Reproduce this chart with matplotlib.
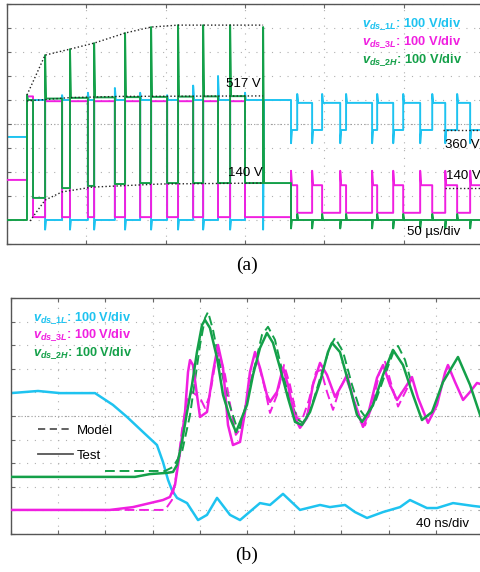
import matplotlib
matplotlib.use('Agg')
import matplotlib.pyplot as plt
from matplotlib.lines import Line2D

plt.rcParams['font.family'] = ['Liberation Sans', 'DejaVu Sans']
plt.rcParams['mathtext.fontset'] = 'custom'
plt.rcParams['mathtext.it'] = 'Liberation Sans:italic:bold'
plt.rcParams['mathtext.rm'] = 'Liberation Sans:bold'
plt.rcParams['mathtext.bf'] = 'Liberation Sans:bold'

CYAN = '#1ec3f0'
MAGENTA = '#f01fe0'
GREEN = '#14a049'

# ---- (a) start-up, 50 us/div, 100 V/div (time in us, voltage in V) ----
# switching instants, one level per interval
a_edges = [0, 12.6, 16.4, 24.0, 34.7, 39.7, 51.0, 54.9, 68.0, 74.4, 83.9, 90.8,
           100.9, 107.8, 117.3, 123.6, 133.0, 140.6, 150.0, 161.4, 179.0,
           182.9, 192.3, 198.6, 210.0, 213.7, 230.1, 233.3, 243.4, 249.7,
           260.4, 268.0, 276.2, 283.7, 291.9, 300.0]

a_green_lv = [0, 500, 92, 506, 133, 509, 142, 511, 150, 512, 154, 513, 154, 514,
              154, 515, 154, 516, 154, 154] + [0] * 15
a_green_sp = [None, 521, None, 687, None, 712, None, 737, None, 779, None, 804,
              None, 812, None, 812, None, 812, None, 804] + [-35, 25] * 7 + [-35]

a_cyan_lv = [346, 500, 500, 0, 500, 0, 500, 0, 500, 0, 500, 0, 500, 0, 500, 0,
             500, 0, 500, 500] + [375, 488] * 7 + [375]
a_cyan_sp = [None, None, None, -40, 520, -40, 530, -40, 550, -40, 530, -40, 520,
             -40, 560, -40, 600, -40, 530, -40] + [320, 525] * 7 + [320]

a_mag_lv = [167, 515, 12, 495, 12, 495, 12, 495, 12, 495, 12, 495, 12, 495, 12,
            495, 12, 495, 12, 12] + [145, 30] * 7 + [145]
a_mag_sp = [None] * 20 + [205, None] * 7 + [205]

# dotted envelopes
a_env_top_t = [12.6, 24.0, 39.7, 54.9, 74.4, 90.8, 107.8, 161.4]
a_env_top_v = [521, 687, 712, 737, 779, 804, 812, 812]
a_env_mid_t = [12.6, 39.7, 71.2, 161.4]
a_env_mid_v = [496, 510, 515, 517]
a_env_low_t = [14.5, 24.0, 34.7, 53.6, 96.5, 160.8]
a_env_low_v = [-4, 83, 117, 137, 150, 154]

# ---- (b) turn-on transient, 40 ns/div, 100 V/div (time in ns, voltage in V) ----
b_cyan_t = [0, 22.9, 41.5, 71.2, 86.4, 98.3, 111.9, 123.7, 128.8, 133.1, 136.4,
            140.7, 149.2, 158.5, 166.1, 174.6, 185.6, 194.1, 211.0, 219.5, 230.5,
            244.9, 261.9, 270.3, 283.1, 291.5, 301.7, 315.3, 329.7, 338.1, 352.5,
            361.0, 374.6, 391.5, 400]
b_cyan_v = [497, 506, 497, 497, 447, 396, 332, 277, 205, 129, 86, 53, 31, -41,
            -19, 53, -19, -41, 31, 23, 70, 2, 23, 14, 23, -7, -32, -7, 14, 44, 10,
            10, 31, 19, 14]

b_green_t = [0, 50.0, 105.1, 117.8, 132.2, 137.3, 140.7, 144.9, 149.2, 153.4,
             157.6, 161.9, 164.4, 168.6, 174.6, 179.7, 185.6, 190.7, 200.0, 205.1,
             211.0, 216.9, 222.0, 228.0, 234.7, 240.7, 246.6, 253.4, 261.9, 268.6,
             272.0, 278.8, 287.3, 293.2, 297.5, 306.8, 315.3, 323.7, 332.2, 340.7,
             348.3, 356.8, 366.1, 378.8, 389.0, 397.5, 400]
b_green_v = [142, 142, 142, 154, 159, 163, 193, 290, 417, 532, 671, 786, 807, 773,
             646, 489, 392, 332, 447, 574, 688, 752, 710, 604, 477, 375, 362, 417,
             544, 671, 710, 671, 519, 405, 375, 447, 574, 680, 616, 489, 383, 417,
             544, 650, 532, 405, 375]

b_green_m_t = [79.7, 130.5, 137.3, 144.9, 151.7, 156.0, 160.2, 164.4, 167.0,
               171.2, 177.1, 183.9, 190.7, 194.1, 200.0, 206.8, 212.7, 217.8,
               223.7, 229.6, 236.4, 243.2, 247.5, 255.1, 263.6, 270.3, 274.6,
               281.4, 289.0, 295.8, 300.8, 309.3, 317.8, 325.4, 328.0, 333.9, 339.8]
b_green_m_v = [167, 167, 184, 247, 404, 553, 701, 815, 841, 765, 617, 468, 362,
               349, 468, 617, 744, 778, 723, 596, 468, 384, 371, 447, 587, 693,
               731, 672, 532, 426, 392, 468, 587, 688, 697, 638, 532]

b_mag_t = [0, 41.5, 83.9, 103.4, 117.8, 128.8, 134.7, 139.0, 143.2, 147.5, 150.0,
           151.7, 154.2, 157.6, 160.2, 166.1, 171.2, 175.4, 179.7, 183.9, 188.1,
           194.1, 198.3, 202.5, 206.8, 211.0, 216.9, 219.5, 225.4, 230.5, 234.7,
           240.7, 244.9, 250.8, 255.9, 261.9, 267.8, 274.6, 280.5, 284.7, 289.8,
           298.3, 302.5, 310.2, 315.3, 321.2, 327.1, 333.9, 339.8, 344.9, 353.4,
           361.0, 367.8, 370.3, 376.3, 383.1, 389.0, 394.9, 400]
b_mag_v = [2, 2, 2, 14, 31, 44, 57, 108, 247, 417, 586, 637, 616, 489, 396, 417,
           586, 701, 604, 362, 277, 290, 417, 586, 671, 604, 489, 460, 502, 604,
           532, 392, 350, 392, 532, 625, 574, 481, 532, 574, 477, 354, 405, 562,
           616, 532, 468, 519, 565, 477, 371, 447, 583, 616, 544, 468, 502, 540, 532]

b_mag_m_t = [83.9, 130.5, 136.4, 140.7, 144.9, 149.2, 153.4, 160.2, 164.4, 168.6,
             172.9, 176.3, 181.4, 186.0, 190.5, 195.0, 200.0, 205.1, 209.3, 214.4,
             219.5, 225.4, 231.4, 236.4, 242.4, 246.6, 252.5, 258.5, 262.7, 267.8,
             272.9, 278.8, 283.9, 289.0, 295.0, 300.0, 306.0, 312.0, 317.0, 322.0,
             328.0, 334.0, 340.0]
b_mag_m_v = [2, 2, 44, 171, 340, 468, 502, 477, 434, 489, 617, 668, 574, 440,
             320, 350, 468, 595, 629, 532, 413, 489, 617, 532, 392, 383, 468, 587,
             595, 502, 426, 519, 562, 489, 380, 360, 440, 580, 630, 540, 440, 500, 560]

ch_names = [r'$v_{ds\_1L}$', r'$v_{ds\_3L}$', r'$v_{ds\_2H}$']
ch_colors = [CYAN, MAGENTA, GREEN]


def step_trace(edges, levels, spikes, dt):
    xs, ys = [edges[0]], [levels[0]]
    for i in range(len(levels)):
        if i > 0:
            xs.append(edges[i])
            ys.append(levels[i - 1])
        if spikes[i] is not None:
            xs += [edges[i], edges[i] + dt]
            ys += [spikes[i], levels[i]]
        else:
            xs.append(edges[i])
            ys.append(levels[i])
        xs.append(edges[i + 1])
        ys.append(levels[i])
    return xs, ys


def scope_grid(ax, nx, xdiv):
    ax.set_xlim(0, nx * xdiv)
    ax.set_ylim(-100, 900)
    ax.set_xticks([i * xdiv for i in range(nx + 1)])
    ax.set_yticks(range(-100, 901, 100))
    ax.tick_params(direction='in', length=3, width=0.8, color='#666',
                   top=True, right=True, labelbottom=False, labelleft=False)
    ax.set_axisbelow(True)
    ax.grid(True, color='#b0b0b0', lw=0.8, ls=(0, (1, 6)))
    ax.axhline(400, color='#999999', lw=0.8, ls=(0, (1, 2)), zorder=0.5)
    for s in ax.spines.values():
        s.set_color('#555555')
        s.set_linewidth(1.0)


fig = plt.figure(figsize=(4.81, 5.72), dpi=100)

# ---------------- (a) ----------------
ax = fig.add_axes([7 / 481, 1 - 244 / 572, 476 / 481, 240 / 572])
scope_grid(ax, 6, 50)

x, y = step_trace(a_edges, a_cyan_lv, a_cyan_sp, 0.6)
ax.plot(x, y, color=CYAN, lw=1.4, zorder=2)
x, y = step_trace(a_edges, a_mag_lv, a_mag_sp, 0.6)
ax.plot(x, y, color=MAGENTA, lw=1.4, zorder=3)
x, y = step_trace(a_edges, a_green_lv, a_green_sp, 0.6)
ax.plot(x, y, color=GREEN, lw=1.4, zorder=4)

ax.plot(a_env_top_t, a_env_top_v, color='#222222', lw=1.0, ls=':', zorder=5)
ax.plot(a_env_mid_t, a_env_mid_v, color='#222222', lw=1.0, ls=':', zorder=5)
ax.plot(a_env_low_t, a_env_low_v, color='#222222', lw=1.0, ls=':', zorder=5)
ax.plot([275, 300], [375, 375], color='#222222', lw=1.0, ls=':', zorder=5)
ax.plot([276, 300], [133, 133], color='#222222', lw=1.0, ls=':', zorder=5)

ax.text(138, 567, '517 V', fontsize=9.5, va='center', zorder=6)
ax.text(139, 196, '140 V', fontsize=9.5, va='center', zorder=6)
ax.text(276, 312, '360 V', fontsize=9.5, va='center', zorder=6, clip_on=False)
ax.text(276.7, 185, '140 V', fontsize=9.5, va='center', zorder=6, clip_on=False)
ax.text(252, -50, '50 µs/div', fontsize=9.5, va='center', zorder=6)
for k in range(3):
    ax.text(223.8, 817 - 75 * k, ch_names[k] + ': 100 V/div', color=ch_colors[k],
            fontsize=9.3, fontweight='bold', va='center', zorder=6)

# ---------------- (b) ----------------
ax = fig.add_axes([11 / 481, 1 - 534 / 572, 472 / 481, 236 / 572])
scope_grid(ax, 10, 40)

ax.plot(b_cyan_t, b_cyan_v, color=CYAN, lw=1.8, zorder=2)
ax.plot(b_mag_m_t, b_mag_m_v, color=MAGENTA, lw=1.4, ls=(0, (5, 2.5)), zorder=3)
ax.plot(b_green_m_t, b_green_m_v, color=GREEN, lw=1.4, ls=(0, (5, 2.5)), zorder=3)
ax.plot(b_mag_t, b_mag_v, color=MAGENTA, lw=1.8, zorder=4)
ax.plot(b_green_t, b_green_v, color=GREEN, lw=1.8, zorder=5)

for k in range(3):
    ax.text(18.6, 819 - 76 * k, ch_names[k] + ': 100 V/div', color=ch_colors[k],
            fontsize=9.2, fontweight='bold', va='center', zorder=6)
ax.text(343, -58, '40 ns/div', fontsize=9.5, va='center', zorder=6)

handles = [Line2D([], [], color='#555555', lw=1.3, ls=(0, (4, 2.5))),
           Line2D([], [], color='#555555', lw=1.3)]
ax.legend(handles, ['Model', 'Test'], loc='upper left', bbox_to_anchor=(0.045, 0.485),
          frameon=False, fontsize=9.5, handlelength=2.7, handletextpad=0.3,
          labelspacing=0.95, borderaxespad=0)

fig.text(247 / 481, 1 - 265 / 572, '(a)', ha='center', va='center',
         family='Liberation Serif', fontsize=14)
fig.text(247 / 481, 1 - 555 / 572, '(b)', ha='center', va='center',
         family='Liberation Serif', fontsize=14)

fig.savefig('out.png', dpi=100)
